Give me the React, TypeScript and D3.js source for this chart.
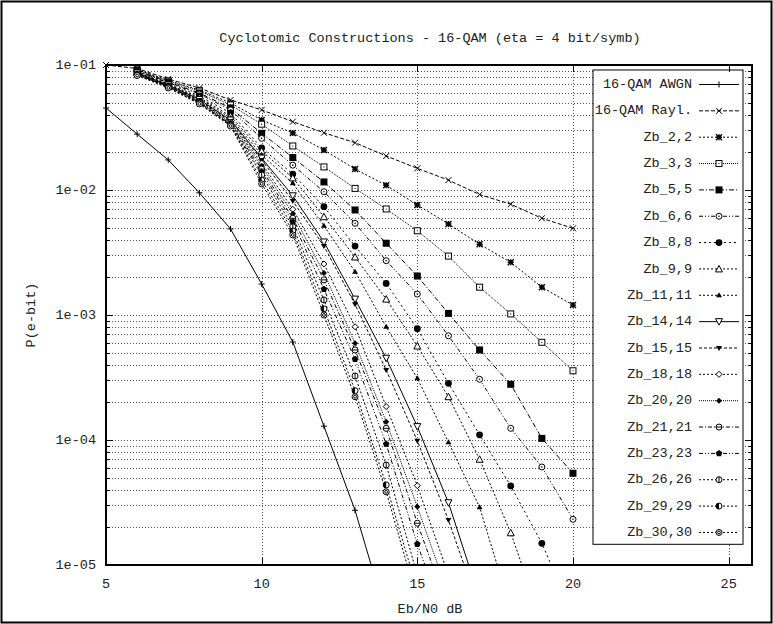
import React from 'react';
import * as d3 from 'd3';

// Eb/N0 (dB) sample points
const ebn0 = [5, 6, 7, 8, 9, 10, 11, 12, 13, 14, 15, 16, 17, 18, 19, 20];

// bit error rates (AWGN + Rayleigh start at 5 dB, Zb_* at 6 dB)
const awgn = [4.53e-2, 2.8e-2, 1.74e-2, 9.5e-3, 4.88e-3, 1.77e-3, 6.08e-4, 1.29e-4, 2.74e-5, 3.9e-6];
const rayl = [0.1, 0.0938, 0.0773, 0.0655, 0.0525, 0.0437, 0.0352, 0.0287, 0.0239, 0.0187, 0.0149, 0.012, 0.0092, 0.0077, 0.00594, 0.00494];
const zb2 = [0.092, 0.0752, 0.0631, 0.0497, 0.0363, 0.0286, 0.0209, 0.0147, 0.0109, 0.00759, 0.00535, 0.00368, 0.00264, 0.00167, 0.0012];
const zb3 = [0.0912, 0.0745, 0.0619, 0.0479, 0.0336, 0.0225, 0.0153, 0.0103, 0.00705, 0.00472, 0.00296, 0.00167, 0.00102, 6.05e-4, 3.58e-4];
const zb5 = [0.0904, 0.0731, 0.0597, 0.0453, 0.0284, 0.0182, 0.0116, 0.00692, 0.00375, 0.00205, 0.00103, 5.25e-4, 2.79e-4, 1.03e-4, 5.42e-5];
const zb6 = [0.0895, 0.0724, 0.0586, 0.0437, 0.0259, 0.0158, 0.00968, 0.00542, 0.00272, 0.00147, 6.82e-4, 3.06e-4, 1.24e-4, 6.08e-5, 2.32e-5];
const zb8 = [0.0887, 0.0718, 0.0565, 0.0413, 0.0217, 0.0134, 0.00735, 0.00356, 0.00179, 7.76e-4, 2.84e-4, 1.1e-4, 4.29e-5, 1.49e-5, 4e-6];
const zb9 = [0.0879, 0.0705, 0.055, 0.0391, 0.0205, 0.0125, 0.00611, 0.00291, 0.00134, 5.65e-4, 2.22e-4, 7.01e-5, 1.81e-5, 3.5e-6];
const zb11 = [0.0871, 0.0698, 0.054, 0.0377, 0.0191, 0.0113, 0.00518, 0.00222, 8.05e-4, 3.12e-4, 9.59e-5, 2.9e-5, 4.4e-6];
const zb14 = [0.0863, 0.0692, 0.053, 0.0363, 0.018, 0.00899, 0.00384, 0.00134, 4.51e-4, 1.28e-4, 3.15e-5, 5.4e-6];
const zb15 = [0.0855, 0.0686, 0.0525, 0.0356, 0.0174, 0.00817, 0.00356, 0.00122, 3.63e-4, 9.86e-5, 2.29e-5, 4.4e-6];
const zb18 = [0.0847, 0.0679, 0.0515, 0.035, 0.0164, 0.00701, 0.00256, 8.05e-4, 1.85e-4, 4.31e-5, 8.3e-6];
const zb20 = [0.0847, 0.0679, 0.0511, 0.0344, 0.0156, 0.00643, 0.00217, 5.94e-4, 1.4e-4, 2.92e-5, 5.75e-6];
const zb21 = [0.0839, 0.0673, 0.0506, 0.0337, 0.0147, 0.00594, 0.00191, 5.25e-4, 1.24e-4, 2.16e-5, 4.4e-6];
const zb23 = [0.0839, 0.0673, 0.0501, 0.0334, 0.0139, 0.00557, 0.00161, 4.43e-4, 9.29e-5, 1.47e-5, 3e-6];
const zb26 = [0.0832, 0.0667, 0.0497, 0.0331, 0.0132, 0.00508, 0.00132, 3.25e-4, 6.31e-5, 8.3e-6];
const zb29 = [0.0832, 0.0661, 0.0492, 0.0328, 0.012, 0.0047, 0.00112, 2.48e-4, 4.37e-5, 6.3e-6];
const zb30 = [0.0824, 0.0655, 0.0488, 0.0325, 0.0112, 0.00437, 0.001, 2.22e-4, 3.85e-5, 5.2e-6];

const xTicks = [5, 10, 15, 20, 25];
const yMajor = [1e-1, 1e-2, 1e-3, 1e-4, 1e-5];

const series = [
  { label: '16-QAM AWGN', vals: awgn, start: 0, mark: 'plus', dash: '' },
  { label: '16-QAM Rayl.', vals: rayl, start: 0, mark: 'cross', dash: '4 2' },
  { label: 'Zb_2,2', vals: zb2, start: 1, mark: 'star', dash: '2 2' },
  { label: 'Zb_3,3', vals: zb3, start: 1, mark: 'box', dash: '1 1' },
  { label: 'Zb_5,5', vals: zb5, start: 1, mark: 'boxF', dash: '5 2 1 2' },
  { label: 'Zb_6,6', vals: zb6, start: 1, mark: 'circDot', dash: '4 2 1 2 1 2' },
  { label: 'Zb_8,8', vals: zb8, start: 1, mark: 'circF', dash: '2 3' },
  { label: 'Zb_9,9', vals: zb9, start: 1, mark: 'tri', dash: '2 2' },
  { label: 'Zb_11,11', vals: zb11, start: 1, mark: 'triF', dash: '2 2' },
  { label: 'Zb_14,14', vals: zb14, start: 1, mark: 'itri', dash: '' },
  { label: 'Zb_15,15', vals: zb15, start: 1, mark: 'itriF', dash: '3 2' },
  { label: 'Zb_18,18', vals: zb18, start: 1, mark: 'diam', dash: '2 2' },
  { label: 'Zb_20,20', vals: zb20, start: 1, mark: 'diamF', dash: '1 1' },
  { label: 'Zb_21,21', vals: zb21, start: 1, mark: 'circBar', dash: '4 2 1 2' },
  { label: 'Zb_23,23', vals: zb23, start: 1, mark: 'pentF', dash: '4 2 1 2 1 2' },
  { label: 'Zb_26,26', vals: zb26, start: 1, mark: 'circVert', dash: '2 2' },
  { label: 'Zb_29,29', vals: zb29, start: 1, mark: 'circHalf', dash: '2 2' },
  { label: 'Zb_30,30', vals: zb30, start: 1, mark: 'circRing', dash: '2 2' },
];

const W = 773, H = 624;
const m = { left: 106, right: 752, top: 65, bottom: 565 };
const font = '"Liberation Mono", "DejaVu Sans Mono", monospace';

function Marker({ type, x, y }: { type: string; x: number; y: number }) {
  const r = 3;
  const st = { stroke: '#000', strokeWidth: 1 };
  switch (type) {
    case 'plus':
      return <path d={`M${x - r},${y}H${x + r}M${x},${y - r}V${y + r}`} {...st} />;
    case 'cross':
      return <path d={`M${x - r},${y - r}L${x + r},${y + r}M${x - r},${y + r}L${x + r},${y - r}`} {...st} />;
    case 'star':
      return <path d={`M${x - r},${y}H${x + r}M${x},${y - r}V${y + r}M${x - r},${y - r}L${x + r},${y + r}M${x - r},${y + r}L${x + r},${y - r}`} {...st} strokeWidth={1.4} />;
    case 'box':
      return <g><rect x={x - r} y={y - r} width={2 * r} height={2 * r} fill="#fff" {...st} /><circle cx={x} cy={y} r={0.6} fill="#000" /></g>;
    case 'boxF':
      return <rect x={x - r - 0.5} y={y - r - 0.5} width={2 * r + 1} height={2 * r + 1} fill="#000" />;
    case 'circDot':
      return <g><circle cx={x} cy={y} r={r} fill="#fff" {...st} /><circle cx={x} cy={y} r={0.8} fill="#000" /></g>;
    case 'circF':
      return <circle cx={x} cy={y} r={r + 0.4} fill="#000" />;
    case 'tri':
      return <path d={`M${x},${y - r - 0.5}L${x + r + 0.5},${y + r}L${x - r - 0.5},${y + r}Z`} fill="#fff" {...st} />;
    case 'triF':
      return <path d={`M${x},${y - r}L${x + r},${y + r - 1}L${x - r},${y + r - 1}Z`} fill="#000" />;
    case 'itri':
      return <path d={`M${x},${y + r + 0.5}L${x + r + 0.5},${y - r}L${x - r - 0.5},${y - r}Z`} fill="#fff" {...st} />;
    case 'itriF':
      return <path d={`M${x},${y + r}L${x + r},${y - r + 1}L${x - r},${y - r + 1}Z`} fill="#000" />;
    case 'diam':
      return <path d={`M${x},${y - r}L${x + r},${y}L${x},${y + r}L${x - r},${y}Z`} fill="#fff" {...st} />;
    case 'diamF':
      return <path d={`M${x},${y - r}L${x + r},${y}L${x},${y + r}L${x - r},${y}Z`} fill="#000" />;
    case 'circBar':
      return <g><circle cx={x} cy={y} r={r} fill="#fff" {...st} /><path d={`M${x - r},${y}H${x + r}`} {...st} /></g>;
    case 'pentF': {
      const pts = d3.range(5).map((i) => {
        const a = -Math.PI / 2 + (i * 2 * Math.PI) / 5;
        return `${x + (r + 0.5) * Math.cos(a)},${y + (r + 0.5) * Math.sin(a)}`;
      });
      return <polygon points={pts.join(' ')} fill="#000" />;
    }
    case 'circVert':
      return <g><circle cx={x} cy={y} r={r} fill="#fff" {...st} /><path d={`M${x},${y - r}V${y + r}`} {...st} /></g>;
    case 'circHalf':
      return <g><circle cx={x} cy={y} r={r} fill="#fff" {...st} /><path d={`M${x},${y - r}A${r},${r} 0 0 0 ${x},${y + r}Z`} fill="#000" /></g>;
    case 'circRing':
      return <g><circle cx={x} cy={y} r={r} fill="#fff" {...st} /><circle cx={x} cy={y} r={1.4} fill="none" {...st} /></g>;
    default:
      return null;
  }
}

export default function App() {
  const x = d3.scaleLinear().domain([5, 25.75]).range([m.left, m.right]);
  const y = d3.scaleLog().domain([1e-5, 1e-1]).range([m.bottom, m.top]);
  const yAll = y.ticks();
  const line = d3.line<[number, number]>().x((d) => x(d[0])).y((d) => y(d[1]));

  const data = series.map((s) => ({
    ...s,
    pts: s.vals.map((v, i) => [ebn0[i + s.start], v] as [number, number]),
  }));

  const lgX = 593, lgY = 70, lgW = 150, lgRow = 26.35;

  return (
    <svg width={W} height={H} style={{ position: 'absolute', left: 0, top: 0, background: '#fff' }} fontFamily={font} fontSize={13.5}>
      <rect x={0} y={0} width={W} height={H} fill="#fff" />
      <defs>
        <clipPath id="plotClip">
          <rect x={m.left} y={m.top} width={m.right - m.left} height={m.bottom - m.top} />
        </clipPath>
      </defs>

      {/* grid */}
      <g stroke="#555" strokeWidth={1} strokeDasharray="1 2">
        {yAll.map((t, i) => (
          <line key={'gy' + i} x1={m.left} x2={m.right} y1={Math.round(y(t)) + 0.5} y2={Math.round(y(t)) + 0.5} />
        ))}
        {xTicks.slice(1).map((t) => (
          <line key={'gx' + t} x1={Math.round(x(t)) + 0.5} x2={Math.round(x(t)) + 0.5} y1={m.top} y2={m.bottom} />
        ))}
      </g>

      {/* curves */}
      <g clipPath="url(#plotClip)">
        {data.map((s) => (
          <path key={s.label} d={line(s.pts) || ''} fill="none" stroke="#000" strokeWidth={1} strokeDasharray={s.dash || undefined} />
        ))}
      </g>
      <g>
        {data.map((s) =>
          s.pts
            .filter((p) => p[1] >= 1e-5 && p[1] <= 1e-1)
            .map((p, i) => <Marker key={s.label + i} type={s.mark} x={x(p[0])} y={y(p[1])} />)
        )}
      </g>

      {/* legend */}
      <rect x={lgX} y={lgY} width={lgW} height={lgRow * series.length} fill="#fff" stroke="#000" strokeWidth={1} />
      {series.map((s, i) => {
        const cy = lgY + lgRow * (i + 0.55);
        return (
          <g key={'lg' + s.label}>
            <text x={692} y={cy} textAnchor="end" dominantBaseline="middle" fill="#222">{s.label}</text>
            <line x1={699} x2={739} y1={cy} y2={cy} stroke="#000" strokeWidth={1} strokeDasharray={s.dash || undefined} />
            <Marker type={s.mark} x={719} y={cy} />
          </g>
        );
      })}

      {/* border and ticks */}
      <rect x={m.left} y={m.top} width={m.right - m.left} height={m.bottom - m.top} fill="none" stroke="#000" strokeWidth={2} />
      <g stroke="#000" strokeWidth={1}>
        {yAll.map((t, i) => {
          const len = yMajor.includes(t) ? 7 : 4;
          const yy = Math.round(y(t)) + 0.5;
          return (
            <g key={'ty' + i}>
              <line x1={m.left} x2={m.left + len} y1={yy} y2={yy} />
              <line x1={m.right - len} x2={m.right} y1={yy} y2={yy} />
            </g>
          );
        })}
        {xTicks.map((t) => {
          const xx = Math.round(x(t)) + 0.5;
          return (
            <g key={'tx' + t}>
              <line x1={xx} x2={xx} y1={m.bottom} y2={m.bottom - 7} />
              <line x1={xx} x2={xx} y1={m.top} y2={m.top + 7} />
            </g>
          );
        })}
      </g>

      {/* tick labels */}
      <g fill="#222">
        {yMajor.map((t) => (
          <text key={'ly' + t} x={96} y={y(t)} textAnchor="end" dominantBaseline="middle">
            {'1e-0' + Math.round(-Math.log10(t))}
          </text>
        ))}
        {xTicks.map((t) => (
          <text key={'lx' + t} x={x(t)} y={584} textAnchor="middle" dominantBaseline="middle">{t}</text>
        ))}
        <text x={430} y={609} textAnchor="middle" dominantBaseline="middle">Eb/N0 dB</text>
        <text x={31} y={315} textAnchor="middle" dominantBaseline="middle" transform="rotate(-90 31 315)">P(e-bit)</text>
        <text x={430} y={38} textAnchor="middle" dominantBaseline="middle">Cyclotomic Constructions - 16-QAM (eta = 4 bit/symb)</text>
      </g>

      {/* outer frame */}
      <rect x={1.5} y={1.5} width={W - 3} height={H - 3} fill="none" stroke="#000" strokeWidth={2} />
    </svg>
  );
}
